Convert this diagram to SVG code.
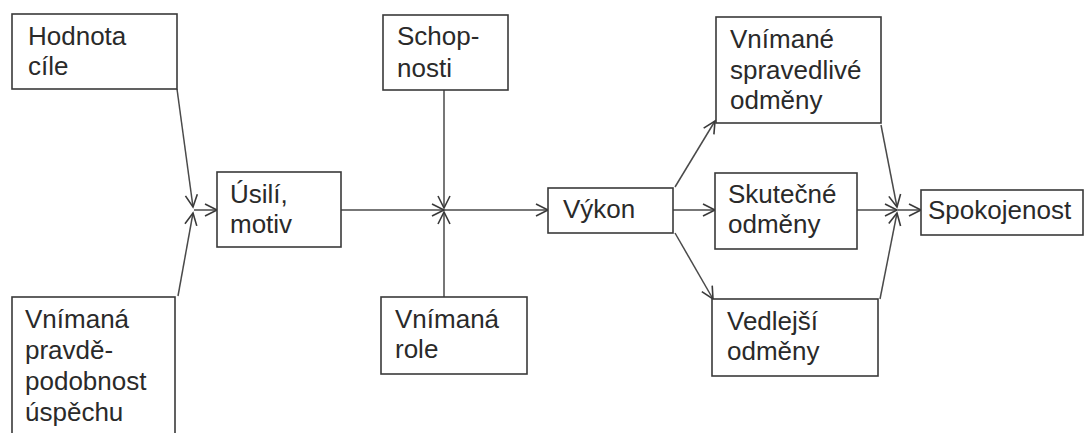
<svg xmlns="http://www.w3.org/2000/svg" width="1084" height="433" viewBox="0 0 1084 433">
<style>
.box{fill:#fff;stroke:#3a3a3a;stroke-width:1.6}
.t{font-family:"Liberation Sans",Arial,sans-serif;font-size:26px;fill:#2a2a2a}
.c{stroke:#4a4a4a;stroke-width:1.5;fill:none}
</style>
<defs>
<marker id="ah" markerUnits="userSpaceOnUse" markerWidth="16" markerHeight="16" refX="13" refY="7" orient="auto">
<path d="M1,1 L13,7 L1,13" fill="none" stroke="#3a3a3a" stroke-width="1.6"/>
</marker>
</defs>
<rect width="1084" height="433" fill="#fff"/>
<g id="connectors">
<line class="c" x1="177" y1="89" x2="193" y2="207" marker-end="url(#ah)"/>
<line class="c" x1="178" y1="296" x2="193" y2="213" marker-end="url(#ah)"/>
<line class="c" x1="194" y1="210" x2="217" y2="210" marker-end="url(#ah)"/>
<line class="c" x1="341" y1="210" x2="444" y2="210" marker-end="url(#ah)"/>
<line class="c" x1="444" y1="90" x2="444" y2="208" marker-end="url(#ah)"/>
<line class="c" x1="444" y1="297" x2="444" y2="212" marker-end="url(#ah)"/>
<line class="c" x1="444" y1="210" x2="548" y2="210" marker-end="url(#ah)"/>
<line class="c" x1="675" y1="187" x2="715" y2="121" marker-end="url(#ah)"/>
<line class="c" x1="673" y1="210" x2="715" y2="210" marker-end="url(#ah)"/>
<line class="c" x1="675" y1="233" x2="713" y2="299" marker-end="url(#ah)"/>
<line class="c" x1="881" y1="125" x2="897" y2="207" marker-end="url(#ah)"/>
<line class="c" x1="857" y1="210" x2="897" y2="210" marker-end="url(#ah)"/>
<line class="c" x1="880" y1="299" x2="897" y2="213" marker-end="url(#ah)"/>
<line class="c" x1="898" y1="210" x2="921" y2="210" marker-end="url(#ah)"/>
</g>
<g id="hodnota">
<rect class="box" x="12" y="14" width="165" height="75"/>
<text class="t" x="28" y="45">Hodnota</text>
<text class="t" x="28" y="75">cíle</text>
</g>
<g id="pravdepodobnost">
<rect class="box" x="12" y="297" width="163" height="150"/>
<text class="t" x="25" y="328">Vnímaná</text>
<text class="t" x="25" y="359">pravdě-</text>
<text class="t" x="25" y="390">podobnost</text>
<text class="t" x="25" y="421">úspěchu</text>
</g>
<g id="usili">
<rect class="box" x="217" y="172" width="124" height="75"/>
<text class="t" x="230" y="203">Úsilí,</text>
<text class="t" x="230" y="233">motiv</text>
</g>
<g id="schopnosti">
<rect class="box" x="383" y="15" width="125" height="75"/>
<text class="t" x="397" y="45">Schop-</text>
<text class="t" x="397" y="77">nosti</text>
</g>
<g id="role">
<rect class="box" x="381" y="297" width="146" height="77"/>
<text class="t" x="395" y="328">Vnímaná</text>
<text class="t" x="395" y="358">role</text>
</g>
<g id="vykon">
<rect class="box" x="548" y="188" width="125" height="45"/>
<text class="t" x="563" y="218">Výkon</text>
</g>
<g id="spravedlive">
<rect class="box" x="716" y="17" width="165" height="106"/>
<text class="t" x="730" y="48">Vnímané</text>
<text class="t" x="730" y="79">spravedlivé</text>
<text class="t" x="730" y="109">odměny</text>
</g>
<g id="skutecne">
<rect class="box" x="715" y="173" width="142" height="76"/>
<text class="t" x="728" y="203">Skutečné</text>
<text class="t" x="728" y="233">odměny</text>
</g>
<g id="vedlejsi">
<rect class="box" x="712" y="299" width="166" height="77"/>
<text class="t" x="727" y="330">Vedlejší</text>
<text class="t" x="727" y="360">odměny</text>
</g>
<g id="spokojenost">
<rect class="box" x="921" y="190" width="162" height="45"/>
<text class="t" x="928" y="219">Spokojenost</text>
</g>
</svg>
